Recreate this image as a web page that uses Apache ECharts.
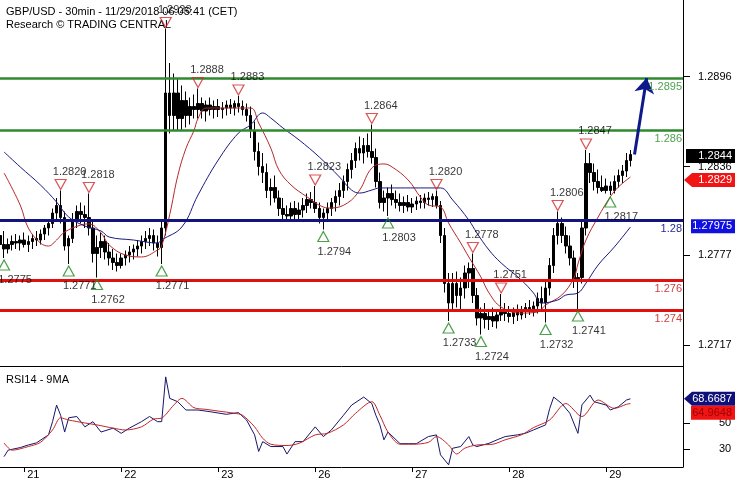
<!DOCTYPE html>
<html><head><meta charset="utf-8">
<script src="https://cdn.jsdelivr.net/npm/echarts@6/dist/echarts.min.js"></script>
<style>html,body{margin:0;padding:0;background:#fff}#c{width:735px;height:480px}</style>
</head><body><div id="c"></div>
<script>
// hourly bars [open, high, low, close], Nov 20 18:00 -> Nov 29 06:00
const ohlc = [
[1.2790,1.2795,1.2782,1.2784],[1.2784,1.2793,1.2775,1.2781],[1.2781,1.2788,1.2778,1.2784],[1.2784,1.2790,1.2780,1.2786],
[1.2786,1.2791,1.2781,1.2785],[1.2785,1.2790,1.2780,1.2787],[1.2787,1.2792,1.2782,1.2784],[1.2784,1.2790,1.2779,1.2786],
[1.2786,1.2791,1.2781,1.2788],[1.2788,1.2793,1.2783,1.2787],[1.2787,1.2794,1.2784,1.2791],[1.2791,1.2797,1.2787,1.2795],
[1.2795,1.2801,1.2790,1.2798],[1.2798,1.2808,1.2795,1.2805],[1.2805,1.2815,1.2800,1.2810],[1.2810,1.2820,1.2798,1.2802],
[1.2802,1.2806,1.2780,1.2783],[1.2783,1.2790,1.2771,1.2788],[1.2788,1.2805,1.2785,1.2800],[1.2800,1.2810,1.2795,1.2806],
[1.2806,1.2812,1.2798,1.2804],[1.2804,1.2810,1.2795,1.2802],[1.2802,1.2818,1.2790,1.2795],[1.2795,1.2800,1.2772,1.2778],
[1.2778,1.2790,1.2762,1.2782],[1.2782,1.2792,1.2775,1.2786],[1.2786,1.2790,1.2774,1.2779],[1.2779,1.2785,1.2770,1.2775],
[1.2775,1.2781,1.2767,1.2772],[1.2772,1.2778,1.2766,1.2770],[1.2770,1.2778,1.2768,1.2775],[1.2775,1.2780,1.2770,1.2777],
[1.2777,1.2783,1.2772,1.2779],[1.2779,1.2784,1.2774,1.2781],[1.2781,1.2787,1.2776,1.2783],[1.2783,1.2790,1.2778,1.2786],
[1.2786,1.2793,1.2781,1.2788],[1.2788,1.2795,1.2783,1.2790],[1.2790,1.2794,1.2780,1.2785],[1.2785,1.2790,1.2776,1.2782],
[1.2782,1.2800,1.2771,1.2795],[1.2795,1.2928,1.2790,1.2885],[1.2885,1.2905,1.2858,1.2870],[1.2870,1.2898,1.2860,1.2885],
[1.2885,1.2895,1.2860,1.2868],[1.2868,1.2890,1.2860,1.2880],[1.2880,1.2886,1.2862,1.2870],[1.2870,1.2882,1.2864,1.2876],
[1.2876,1.2884,1.2868,1.2874],[1.2874,1.2888,1.2868,1.2878],[1.2878,1.2882,1.2868,1.2873],[1.2873,1.2880,1.2866,1.2877],
[1.2877,1.2882,1.2870,1.2874],[1.2874,1.2880,1.2868,1.2876],[1.2876,1.2881,1.2869,1.2874],[1.2874,1.2879,1.2868,1.2875],
[1.2875,1.2880,1.2870,1.2877],[1.2877,1.2881,1.2871,1.2875],[1.2875,1.2880,1.2870,1.2878],[1.2878,1.2883,1.2872,1.2876],
[1.2876,1.2880,1.2870,1.2874],[1.2874,1.2878,1.2866,1.2870],[1.2870,1.2876,1.2855,1.2860],[1.2860,1.2866,1.2840,1.2846],
[1.2846,1.2852,1.2830,1.2836],[1.2836,1.2845,1.2825,1.2832],[1.2832,1.2838,1.2815,1.2820],[1.2820,1.2828,1.2810,1.2822],
[1.2822,1.2830,1.2812,1.2815],[1.2815,1.2820,1.2803,1.2808],[1.2808,1.2815,1.2800,1.2804],[1.2804,1.2810,1.2799,1.2803],
[1.2803,1.2812,1.2800,1.2808],[1.2808,1.2813,1.2800,1.2804],[1.2804,1.2812,1.2799,1.2807],[1.2807,1.2815,1.2802,1.2810],
[1.2810,1.2818,1.2805,1.2814],[1.2814,1.2819,1.2808,1.2812],[1.2812,1.2823,1.2805,1.2808],[1.2808,1.2812,1.2798,1.2802],
[1.2802,1.2808,1.2794,1.2805],[1.2805,1.2812,1.2800,1.2808],[1.2808,1.2815,1.2803,1.2812],[1.2812,1.2820,1.2806,1.2816],
[1.2816,1.2825,1.2810,1.2820],[1.2820,1.2830,1.2815,1.2826],[1.2826,1.2838,1.2820,1.2834],[1.2834,1.2845,1.2828,1.2840],
[1.2840,1.2852,1.2835,1.2848],[1.2848,1.2856,1.2840,1.2845],[1.2845,1.2855,1.2838,1.2850],[1.2850,1.2858,1.2842,1.2846],
[1.2846,1.2864,1.2838,1.2842],[1.2842,1.2848,1.2822,1.2826],[1.2826,1.2832,1.2808,1.2812],[1.2812,1.2820,1.2806,1.2815],
[1.2815,1.2822,1.2803,1.2818],[1.2818,1.2824,1.2810,1.2814],[1.2814,1.2820,1.2808,1.2812],[1.2812,1.2818,1.2806,1.2810],
[1.2810,1.2816,1.2805,1.2812],[1.2812,1.2817,1.2806,1.2809],[1.2809,1.2815,1.2805,1.2811],[1.2811,1.2816,1.2807,1.2813],
[1.2813,1.2817,1.2808,1.2812],[1.2812,1.2818,1.2808,1.2815],[1.2815,1.2819,1.2810,1.2814],[1.2814,1.2818,1.2809,1.2816],
[1.2816,1.2820,1.2808,1.2810],[1.2810,1.2813,1.2785,1.2790],[1.2790,1.2795,1.2752,1.2758],[1.2758,1.2765,1.2733,1.2745],
[1.2745,1.2765,1.2740,1.2758],[1.2758,1.2766,1.2742,1.2750],[1.2750,1.2762,1.2740,1.2755],[1.2755,1.2770,1.2748,1.2765],
[1.2765,1.2772,1.2755,1.2768],[1.2768,1.2778,1.2745,1.2750],[1.2750,1.2755,1.2730,1.2735],[1.2735,1.2742,1.2724,1.2738],
[1.2738,1.2745,1.2728,1.2734],[1.2734,1.2740,1.2727,1.2736],[1.2736,1.2742,1.2729,1.2733],[1.2733,1.2740,1.2728,1.2737],
[1.2737,1.2751,1.2733,1.2740],[1.2740,1.2745,1.2733,1.2738],[1.2738,1.2743,1.2732,1.2736],[1.2736,1.2742,1.2731,1.2739],
[1.2739,1.2744,1.2733,1.2737],[1.2737,1.2743,1.2734,1.2740],[1.2740,1.2745,1.2735,1.2742],[1.2742,1.2747,1.2737,1.2740],
[1.2740,1.2746,1.2736,1.2743],[1.2743,1.2752,1.2738,1.2748],[1.2748,1.2756,1.2740,1.2745],[1.2745,1.2760,1.2732,1.2755],
[1.2755,1.2775,1.2750,1.2770],[1.2770,1.2795,1.2765,1.2790],[1.2790,1.2806,1.2784,1.2798],[1.2798,1.2802,1.2785,1.2790],
[1.2790,1.2796,1.2778,1.2783],[1.2783,1.2790,1.2770,1.2775],[1.2775,1.2780,1.2755,1.2760],[1.2760,1.2765,1.2741,1.2762],
[1.2762,1.2800,1.2758,1.2795],[1.2795,1.2847,1.2790,1.2838],[1.2838,1.2845,1.2825,1.2832],[1.2832,1.2838,1.2820,1.2826],
[1.2826,1.2834,1.2818,1.2822],[1.2822,1.2830,1.2819,1.2820],[1.2820,1.2828,1.2818,1.2823],[1.2823,1.2826,1.2817,1.2820],
[1.2820,1.2830,1.2818,1.2826],[1.2826,1.2834,1.2822,1.2830],[1.2830,1.2837,1.2825,1.2833],[1.2833,1.2845,1.2829,1.2840],
[1.2840,1.2847,1.2836,1.2844]
];
// moving averages: [bar index, price]
const maFast = [[1,1.28317],[5,1.28103],[7,1.2795],[10,1.2785],[12,1.2783],[14,1.2787],[16,1.27923],[20,1.2797],[22,1.27977],[25,1.27917],[27,1.27837],[31,1.2777],[35,1.27757],[39,1.27803],[40,1.2783],[42,1.2804],[44,1.2830],[46,1.2848],[48,1.2860],[49,1.2868],[51,1.2875],[56,1.2875],[62,1.2875],[64,1.2865],[67,1.28483],[69,1.28337],[72,1.28237],[76,1.28157],[80,1.2809],[82,1.28083],[86,1.28117],[89,1.28203],[92,1.2835],[95,1.28377],[97,1.28357],[101,1.2827],[104,1.28157],[106,1.28103],[109,1.2809],[111,1.27983],[114,1.2785],[116,1.27757],[119,1.27623],[121,1.27517],[124,1.27423],[129,1.27383],[133,1.2739],[135,1.27437],[139,1.27503],[142,1.27617],[143,1.2771],[145,1.2787],[148,1.28023],[151,1.28157],[153,1.28223],[156,1.2829]];
const maSlow = [[1,1.28457],[5,1.28357],[10,1.28237],[14,1.28123],[17,1.28023],[21,1.27963],[25,1.2793],[27,1.2789],[33,1.2787],[39,1.2785],[40,1.2787],[45,1.27957],[49,1.2817],[54,1.28403],[59,1.28583],[62,1.28637],[65,1.28717],[67,1.28683],[70,1.28617],[74,1.28537],[79,1.28423],[84,1.2829],[87,1.28203],[89,1.28183],[92,1.28203],[94,1.28217],[99,1.28217],[104,1.28217],[109,1.28217],[112,1.28137],[116,1.28003],[118,1.27917],[121,1.27803],[124,1.27717],[129,1.27603],[132,1.27517],[134,1.2745],[138,1.2747],[140,1.27503],[143,1.27517],[145,1.27583],[148,1.27703],[152,1.27823],[156,1.27957]];
// RSI14 and its 9MA
const rsi = [[1,24],[2,29],[5,31],[7,33],[9,34.6],[12,40.8],[13,51],[14,63.8],[15,56],[16,43],[17,54],[19,55],[21,47],[23,51],[25,43],[28,46],[30,42],[32,46],[35,51],[37,55],[39,51],[40,51],[41,85.6],[42,69],[44,66.4],[46,60],[49,60],[52,58.7],[56,56.7],[59,58],[61,52.3],[63,40.8],[64,28],[65,35.6],[67,31.8],[70,31.8],[71,26],[73,35.6],[75,35.6],[78,47],[80,39.5],[82,44.6],[85,56],[87,63.8],[90,70],[92,65],[93,56],[94,48.5],[95,37],[96,43],[99,34],[101,34],[103,34],[106,39.5],[108,40.8],[109,25.4],[111,17.7],[112,30.5],[114,31.8],[116,39.5],[117,33],[118,31.8],[121,34.3],[123,37],[125,39.5],[128,40.8],[130,42],[132,44.6],[135,48.5],[136,61],[137,70],[139,65],[141,57.5],[143,42],[144,64],[146,71.5],[147,66.4],[150,63.8],[151,60],[153,62.5],[155,67.7],[156,68.6687]];
const rsiMa = [[1,34.6],[3,29],[7,31.8],[10,35],[13,44.6],[15,54],[17,52.3],[21,50],[24,48.5],[28,46],[31,44.6],[35,47],[38,53],[40,53.8],[43,63.8],[45,69],[48,61.8],[51,60.5],[54,59.2],[58,57.5],[60,56],[63,47],[65,38.2],[67,33.6],[71,32.6],[74,34.3],[78,40.8],[81,42],[85,48.5],[88,57.5],[92,66.4],[94,56],[96,43],[99,33.6],[102,33.6],[106,35],[108,39.5],[111,33],[113,26],[115,30.5],[118,33],[122,33.6],[125,37],[129,40.8],[132,46.4],[136,52.3],[140,65],[144,55],[148,67.7],[152,61.3],[155,64.4],[156,64.9648]];
// swing highs / lows
const peaks = [[15,1.2820],[22,1.2818],[41,1.2928],[49,1.2888],[59,1.2883],[78,1.2823],[92,1.2864],[108,1.2820],[117,1.2778],[124,1.2751],[138,1.2806],[145,1.2847]];
const lastHigh = [[156,1.2847]];
const troughs = [[1,1.2775],[17,1.2771],[24,1.2762],[40,1.2771],[80,1.2794],[96,1.2803],[111,1.2733],[119,1.2724],[135,1.2732],[143,1.2741],[151,1.2817]];
// horizontal levels
const levelValues = [1.2895, 1.286, 1.28, 1.276, 1.274];
const levelLabels = ['1.2895','1.286','1.28','1.276','1.274'];
const levelColors = ['#2f8a2f','#2f8a2f','#141480','#e01010','#e01010'];
const levelTextColors = ['#4f9f4f','#4f9f4f','#2a2a9a','#d04040','#d04040'];
const levelWidths = [2.5, 2.5, 3, 3, 3];
const arrowFrom = [157, 1.2844], arrowTo = [160, 1.2895];
const priceTicks = [1.2717, 1.2777, 1.2836, 1.2896];
const rsiTicks = [30, 50];
const dayIdx = [6, 30, 54, 78, 102, 126, 150];
const dayLabels = ['21','22','23','26','27','28','29'];
const lastClose = 1.2844, lastMaFast = 1.2829, pivot = 1.27975;
const lastRsi = 68.6687, lastRsiMa = 64.9648;

const NCAT = 170;
const cats = [];
for (let i = 0; i < NCAT; i++) cats.push(String(i));
const FONT = '"Liberation Sans", Arial, sans-serif';
const candles = ohlc.map(r => [r[0], r[3], r[2], r[1]]);

const chart = echarts.init(document.getElementById('c'), null, {renderer: 'canvas'});
const option = {
  animation: false,
  backgroundColor: '#fff',
  textStyle: {fontFamily: FONT},
  title: [
    {text: 'GBP/USD - 30min - 11/29/2018 06:05:41 (CET)', subtext: 'Research © TRADING CENTRAL', left: 1, top: 1, itemGap: 2,
     textStyle: {fontSize: 11, fontWeight: 'normal', color: '#000', fontFamily: FONT},
     subtextStyle: {fontSize: 11, color: '#000', fontFamily: FONT}},
    {text: 'RSI14 - 9MA', left: 1, top: 369, textStyle: {fontSize: 11, fontWeight: 'normal', color: '#000', fontFamily: FONT}}
  ],
  grid: [
    {left: 0, right: 52, top: 0, height: 366},
    {left: 0, right: 52, top: 366, height: 101}
  ],
  xAxis: [
    {type: 'category', gridIndex: 0, data: cats, boundaryGap: false,
     axisLine: {show: true, lineStyle: {color: '#000', width: 1}}, axisTick: {show: false}, axisLabel: {show: false}, splitLine: {show: false}},
    {type: 'category', gridIndex: 1, data: cats, boundaryGap: false,
     axisLine: {show: true, lineStyle: {color: '#000', width: 1}},
     axisTick: {show: true, length: 5, lineStyle: {color: '#000'}, interval: (i) => dayIdx.indexOf(i) >= 0},
     axisLabel: {show: true, interval: (i) => dayIdx.indexOf(i) >= 0, formatter: (v) => { const k = dayIdx.indexOf(Number(v)); return k >= 0 ? dayLabels[k] : ''; },
       align: 'left', margin: 2, padding: [0, 0, 0, 3], fontSize: 11, color: '#000', fontFamily: FONT},
     splitLine: {show: false}}
  ],
  yAxis: [
    {type: 'value', gridIndex: 0, position: 'right', min: 1.2703, max: 1.2947, scale: true,
     axisLine: {show: true, lineStyle: {color: '#000', width: 1}}, axisTick: {show: false}, splitLine: {show: false},
     axisLabel: {show: true, customValues: priceTicks, margin: 15, fontSize: 11, color: '#000', fontFamily: FONT,
       formatter: (v) => priceTicks.some(t => Math.abs(t - v) < 1e-6) ? v.toFixed(4) : ''}},
    {type: 'value', gridIndex: 1, position: 'right', min: 16, max: 94,
     axisLine: {show: true, lineStyle: {color: '#000', width: 1}}, axisTick: {show: false}, splitLine: {show: false},
     axisLabel: {show: true, customValues: rsiTicks, margin: 36, fontSize: 11, color: '#000', fontFamily: FONT,
       formatter: (v) => rsiTicks.indexOf(Math.round(v)) >= 0 && Math.abs(v - Math.round(v)) < 1e-6 ? String(Math.round(v)) : ''}}
  ],
  series: [
    {type: 'candlestick', xAxisIndex: 0, yAxisIndex: 0, data: candles, barWidth: 3, z: 2,
     itemStyle: {color: '#000', color0: '#000', borderColor: '#000', borderColor0: '#000', borderWidth: 1}},
    {type: 'line', xAxisIndex: 0, yAxisIndex: 0, data: [], z: 3,
     markLine: {silent: true, symbol: ['none', 'none'],
       data: levelValues.map((v, i) => [
         {coord: [0, v], lineStyle: {color: levelColors[i], width: levelWidths[i], type: 'solid'},
          label: {show: true, position: 'insideEndBottom', distance: [1, 3], formatter: levelLabels[i], color: levelTextColors[i], fontSize: 11, fontFamily: FONT}},
         {coord: [NCAT - 1, v]}])}},
    {type: 'line', xAxisIndex: 0, yAxisIndex: 0, data: maFast, showSymbol: false, smooth: 0.4, z: 4,
     lineStyle: {color: '#b52a2a', width: 1}},
    {type: 'line', xAxisIndex: 0, yAxisIndex: 0, data: maSlow, showSymbol: false, smooth: 0.4, z: 4,
     lineStyle: {color: '#1a1a80', width: 1}},
    {type: 'line', xAxisIndex: 0, yAxisIndex: 0, data: [], z: 6,
     markLine: {silent: true, symbol: ['none', 'arrow'], symbolSize: 15,
       lineStyle: {color: '#0f1a8a', width: 3, type: 'solid'}, label: {show: false},
       data: [[{coord: arrowFrom}, {coord: arrowTo}]]}},
    {type: 'scatter', xAxisIndex: 0, yAxisIndex: 0, data: peaks, z: 7,
     symbol: 'path://M0,0 L10,0 L5,9 Z', symbolSize: [11, 10], symbolOffset: [0, -6],
     itemStyle: {color: 'rgba(255,255,255,0)', borderColor: '#d22a2a', borderWidth: 1.2},
     label: {show: true, position: 'inside', offset: [9, -13], formatter: (p) => p.value[1].toFixed(4), color: '#000', fontSize: 11, fontFamily: FONT}},
    {type: 'scatter', xAxisIndex: 0, yAxisIndex: 0, data: lastHigh, z: 7, symbol: 'none', symbolSize: 1,
     label: {show: true, position: 'inside', offset: [8, -19], formatter: (p) => p.value[1].toFixed(4), color: '#000', fontSize: 11, fontFamily: FONT}},
    {type: 'scatter', xAxisIndex: 0, yAxisIndex: 0, data: troughs, z: 7,
     symbol: 'triangle', symbolSize: [11, 10], symbolOffset: [0, 7],
     itemStyle: {color: 'rgba(255,255,255,0)', borderColor: '#1f8a1f', borderWidth: 1.2},
     label: {show: true, position: 'inside', offset: [11, 15], formatter: (p) => p.value[1].toFixed(4), color: '#000', fontSize: 11, fontFamily: FONT}},
    {type: 'line', xAxisIndex: 1, yAxisIndex: 1, data: rsi, showSymbol: false, z: 4,
     lineStyle: {color: '#16166a', width: 1}},
    {type: 'line', xAxisIndex: 1, yAxisIndex: 1, data: rsiMa, showSymbol: false, smooth: 0.3, z: 5,
     lineStyle: {color: '#c02828', width: 1}}
  ]
};
chart.setOption(option);

const yP = v => chart.convertToPixel({yAxisIndex: 0}, v);
const yR = v => chart.convertToPixel({yAxisIndex: 1}, v);
const g = [];
priceTicks.forEach(v => { const y = Math.round(yP(v)) + 0.5; g.push({type: 'line', shape: {x1: 683, y1: y, x2: 690, y2: y}, style: {stroke: '#000', lineWidth: 1}, z: 50}); });
rsiTicks.forEach(v => { const y = Math.round(yR(v)) + 0.5; g.push({type: 'line', shape: {x1: 683, y1: y, x2: 690, y2: y}, style: {stroke: '#000', lineWidth: 1}, z: 50}); });
function tag(yc, text, bg, fg, x0, arrow) {
  const t = yc - 7, b = yc + 7;
  if (arrow) g.push({type: 'polygon', shape: {points: [[684, yc], [x0, t], [735, t], [735, b], [x0, b]]}, style: {fill: bg}, z: 60});
  else g.push({type: 'rect', shape: {x: x0, y: t, width: 735 - x0, height: 14}, style: {fill: bg}, z: 60});
  g.push({type: 'text', x: 732, y: yc, style: {text: text, fill: fg, font: '11px ' + FONT, textAlign: 'right', textVerticalAlign: 'middle'}, z: 61});
}
tag(yP(lastClose) + 1.5, lastClose.toFixed(4), '#000', '#fff', 686, false);
tag(yP(lastMaFast) + 3, lastMaFast.toFixed(4), '#f01414', '#fff', 692, true);
tag(yP(pivot) + 2, pivot.toFixed(5), '#1010e0', '#fff', 691, false);
const yr = yR(lastRsi);
tag(yr, lastRsi.toFixed(4), '#10107a', '#fff', 692, true);
tag(yr + 14, lastRsiMa.toFixed(4), '#f01414', '#a00000', 691, false);
chart.setOption({graphic: g});
</script>
</body></html>
